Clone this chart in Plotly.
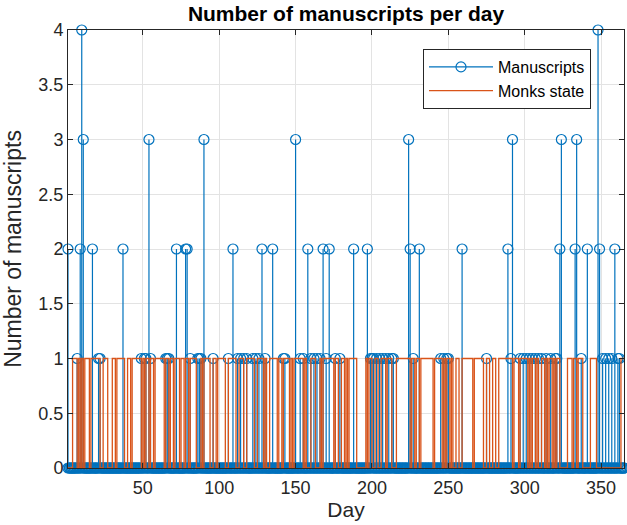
import plotly.graph_objects as go

# ---------------- data ----------------
days = list(range(1, 366))

# days with at least one manuscript, and the number of manuscripts
ms_days = [1, 7, 9, 10, 11, 17, 21, 22, 37, 49, 51, 52, 54, 55, 65, 66, 67,
           72, 78, 79, 81, 86, 87, 88, 90, 96, 106, 109, 112, 114, 116, 118,
           122, 124, 126, 128, 130, 135, 142, 143, 150, 153, 155, 158, 160,
           162, 164, 166, 168, 170, 172, 176, 179, 188, 197, 199, 200, 201,
           203, 205, 207, 209, 211, 213, 214, 224, 225, 227, 231, 245, 247,
           249, 250, 259, 275, 289, 291, 292, 297, 299, 301, 303, 305, 307,
           309, 311, 314, 317, 320, 321, 323, 324, 333, 334, 337, 341, 348,
           349, 351, 353, 355, 357, 359, 361, 362]
ms_counts = [2, 1, 2, 4, 3, 2, 1, 1, 2, 1, 1, 1, 3, 1, 1, 1, 1,
             2, 2, 2, 1, 1, 1, 1, 3, 1, 1, 2, 1, 1, 1, 1,
             1, 1, 1, 2, 1, 2, 1, 1, 3, 1, 1, 2, 1,
             1, 1, 1, 2, 1, 2, 1, 1, 2, 2, 1, 1, 1,
             1, 1, 1, 1, 1, 1, 1, 3, 2, 1, 2, 1, 1,
             1, 1, 2, 1, 2, 1, 3, 1, 1, 1, 1, 1, 1,
             1, 1, 1, 1, 1, 1, 2, 3, 2, 3, 1, 2, 4,
             2, 1, 1, 1, 1, 2, 1, 1]

# periods (start day inclusive, end day exclusive) where the monks state is 1
monks_on_start = [4, 8, 10, 12, 16, 24, 30, 33, 40, 43, 50, 52, 55, 58, 65, 68,
                  71, 75, 78, 81, 88, 90, 96, 99, 106, 113, 118, 125, 130, 133,
                  139, 142, 147, 149, 156, 160, 166, 168, 176, 180, 183, 185,
                  196, 198, 202, 206, 210, 216, 226, 229, 232, 241, 247, 249,
                  252, 255, 259, 267, 275, 279, 283, 293, 297, 303, 305, 308,
                  311, 314, 316, 319, 321, 328, 332, 335, 343, 363]
monks_on_end = [7, 9, 11, 15, 22, 27, 32, 38, 42, 49, 51, 54, 57, 64, 67, 70,
                74, 77, 80, 85, 89, 94, 98, 104, 111, 116, 123, 129, 131, 138,
                141, 146, 148, 155, 157, 163, 167, 175, 178, 182, 184, 190,
                197, 200, 204, 209, 213, 225, 228, 231, 240, 246, 248, 251,
                253, 257, 266, 273, 277, 281, 292, 296, 302, 304, 307, 309,
                313, 315, 318, 320, 323, 331, 334, 338, 347, 366]

x_ticks = [50, 100, 150, 200, 250, 300, 350]
y_ticks = [0, 0.5, 1, 1.5, 2, 2.5, 3, 3.5, 4]

# ---------------- build series ----------------
count_of = dict(zip(ms_days, ms_counts))
manuscripts = [count_of.get(d, 0) for d in days]
monks = [1 if any(s <= d < e for s, e in zip(monks_on_start, monks_on_end)) else 0
         for d in days]

stem_x, stem_y = [], []
for d, v in zip(days, manuscripts):
    stem_x += [d, d, None]
    stem_y += [0, v, None]

BLUE = "#0072BD"
ORANGE = "#D95319"
DARK = "#262626"
FONT = "Liberation Sans, Arial, Helvetica, sans-serif"

W, H = 627, 525

fig = go.Figure()
fig.add_trace(go.Scatter(
    x=stem_x, y=stem_y, mode="lines+markers", name="Manuscripts",
    line=dict(color=BLUE, width=1.2),
    marker=dict(symbol="circle-open", size=10, color=BLUE, line=dict(width=1.2, color=BLUE)),
    cliponaxis=False,
))
fig.add_trace(go.Scatter(
    x=days, y=monks, mode="lines", name="Monks state",
    line=dict(color=ORANGE, width=1.3, shape="hv"),
))

axis_common = dict(
    showline=True, linecolor=DARK, linewidth=1, mirror="ticks",
    ticks="inside", ticklen=5, tickcolor=DARK, tickwidth=1,
    showgrid=True, gridcolor="#e3e3e3", gridwidth=1, zeroline=False,
    tickfont=dict(family=FONT, size=18, color=DARK),
    automargin=False,
)

fig.update_layout(
    width=W, height=H,
    margin=dict(l=68, r=3, t=30, b=57),
    paper_bgcolor="white", plot_bgcolor="white",
    title=dict(text="<b>Number of manuscripts per day</b>",
               font=dict(family=FONT, size=21, color="black"),
               x=(68 + 624) / 2 / W, xanchor="center",
               y=1 - 14 / H, yanchor="middle"),
    xaxis=dict(range=[1, 365], tickvals=x_ticks, ticklabelstandoff=3,
               title=dict(text="Day", font=dict(family=FONT, size=21, color=DARK), standoff=4),
               **axis_common),
    yaxis=dict(range=[0, 4], tickvals=y_ticks,
               title=dict(text="Number of manuscripts", font=dict(family=FONT, size=23, color=DARK), standoff=16),
               **axis_common),
    legend=dict(x=(423 - 68) / 556, y=(468 - 49) / 438, xanchor="left", yanchor="top",
                bordercolor=DARK, borderwidth=1, bgcolor="white",
                font=dict(family=FONT, size=16, color="black"),
                itemwidth=64, tracegroupgap=0),
    showlegend=True,
)

# remove the browser's default 8 px body margin so the figure fills the window exactly
fig.write_html("out.html", config={"displayModeBar": False},
               post_script="document.body.style.margin='0';")
